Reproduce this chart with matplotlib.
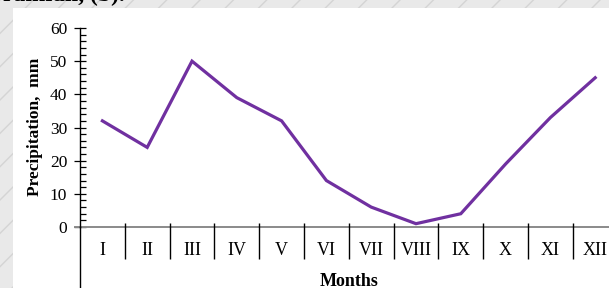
import numpy as np
import matplotlib
matplotlib.use('Agg')
import matplotlib.pyplot as plt
from matplotlib.patches import Rectangle
from matplotlib.ticker import MultipleLocator

months = ['I', 'II', 'III', 'IV', 'V', 'VI', 'VII', 'VIII', 'IX', 'X', 'XI', 'XII']
precip = [32, 24, 50, 39, 32, 14, 6, 1, 4, 19, 33, 45]

plt.rcParams['font.family'] = ['Liberation Serif', 'DejaVu Serif']

W, H = 609, 288
fig = plt.figure(figsize=(W / 100, H / 100), dpi=100)
fig.patch.set_facecolor('#e9e9e9')

# hatched grey background, white sheet on top
bg = Rectangle((0, 0), 1, 1, transform=fig.transFigure, facecolor='#e9e9e9',
               edgecolor='#d4d4d4', hatch='/', linewidth=0, zorder=-3)
fig.patches.append(bg)
sheet = Rectangle((13 / W, 0), 1, 1 - 8 / H, transform=fig.transFigure,
                  facecolor='white', edgecolor='none', zorder=-2)
fig.patches.append(sheet)
fig.text(0.005, 1.015, 'rainfall, (b).', fontsize=17, fontweight='bold',
         va='center', ha='left', color='black')

ax = fig.add_axes([80 / W, 1 - 227 / H, 1 - 80 / W, (227 - 28) / H])
ax.set_facecolor('none')

x = np.arange(1, len(months) + 1)
ax.plot(x, precip, color='#7030a0', lw=2.3, solid_joinstyle='miter')

ax.set_xlim(0.5, 0.5 + (W - 80) / 44.8)
ax.set_ylim(0, 60)
ax.yaxis.set_major_locator(MultipleLocator(10))
ax.yaxis.set_minor_locator(MultipleLocator(2))
ax.tick_params(axis='y', which='major', direction='inout', length=8.5, width=0.9,
               labelsize=12.5, pad=5)
ax.tick_params(axis='y', which='minor', direction='in', length=4.5, width=0.9)

ax.set_xticks(x, months)
ax.tick_params(axis='x', length=0, labelsize=13, pad=11)

for s in ['top', 'right', 'bottom']:
    ax.spines[s].set_visible(False)
ax.spines['left'].set_bounds(0, 60)
ax.spines['left'].set_linewidth(1.0)

hpx = 227 - 28
# zero line in grey and axis extended downward
ax.axhline(0, xmin=-5 / (W - 80), xmax=1, color='#8a8a8a', lw=1.4, clip_on=False)
ax.plot([0.5, 0.5], [0, -(H - 227) / hpx], color='black', lw=1.0,
        transform=ax.get_xaxis_transform(), clip_on=False)
bounds = x[:-1] + 0.5
ax.vlines(bounds, -32 / hpx, 4 / hpx, color='black', lw=1.0,
          transform=ax.get_xaxis_transform(), clip_on=False)

fig.text(35 / W, 1 - 127 / H, 'Precipitation,  mm', rotation=90, fontsize=12.5,
         fontweight='bold', ha='center', va='center')
fig.text(349 / W, 1 - 281 / H, 'Months', fontsize=13, fontweight='bold',
         ha='center', va='center')

fig.savefig('out.png', dpi=100, facecolor=fig.get_facecolor())
